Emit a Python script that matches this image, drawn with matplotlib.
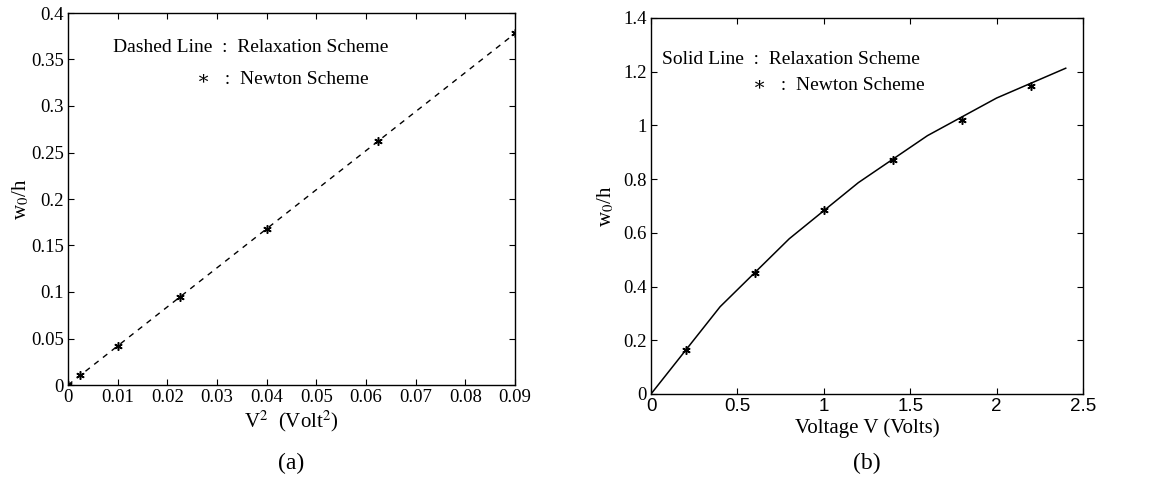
import numpy as np
import matplotlib
matplotlib.use("Agg")
import matplotlib.pyplot as plt

plt.rcParams['font.family'] = ['Liberation Serif', 'DejaVu Serif']
plt.rcParams['mathtext.fontset'] = 'stix'

# panel (a): w0/h against V^2
v2_newton = [0, 0.0025, 0.01, 0.0225, 0.04, 0.0625, 0.09]
w_newton_a = [0, 0.0105, 0.042, 0.0945, 0.168, 0.262, 0.378]
v2_relax = [0, 0.09]
w_relax_a = [0, 0.378]

# panel (b): w0/h against V
v_newton = [0.2, 0.6, 1.0, 1.4, 1.8, 2.2]
w_newton_b = [0.165, 0.45, 0.686, 0.871, 1.021, 1.148]
v_relax = [0, 0.4, 0.8, 1.2, 1.6, 2.0, 2.4]
w_relax_b = [0, 0.325, 0.578, 0.787, 0.962, 1.102, 1.213]

fig = plt.figure(figsize=(11.49, 4.80), dpi=100)
W, H = 1149, 480

def box(x0, y0, x1, y1):
    return [x0 / W, (H - y1) / H, (x1 - x0) / W, (y1 - y0) / H]

star = dict(marker=(6, 2, 0), markersize=6, markeredgewidth=1.1,
            color='black', linestyle='none')

def style(ax):
    ax.tick_params(direction='in', top=True, right=True, length=4,
                   width=0.8, labelsize=13.5, pad=3)
    for s in ax.spines.values():
        s.set_linewidth(1.0)

# (a)
ax1 = fig.add_axes(box(68, 13, 515, 385))
ax1.plot(v2_relax, w_relax_a, 'k--', linewidth=1.0, dashes=(4, 4))
ax1.plot(v2_newton, w_newton_a, **star)
ax1.set_xlim(0, 0.09)
ax1.set_ylim(0, 0.4)
ax1.set_xticks(np.arange(0, 0.091, 0.01))
ax1.set_xticklabels(['0', '0.01', '0.02', '0.03', '0.04', '0.05',
                     '0.06', '0.07', '0.08', '0.09'])
ax1.set_yticks(np.arange(0, 0.41, 0.05))
ax1.set_yticklabels(['0', '0.05', '0.1', '0.15', '0.2', '0.25',
                     '0.3', '0.35', '0.4'])
style(ax1)
ax1.set_xlabel(r'V$^2$  (Volt$^2$)', fontsize=15, labelpad=2)
ax1.set_ylabel(r'w$_0$/h', fontsize=15, labelpad=0)
ax1.text(0.10, 0.908, 'Dashed Line  :  Relaxation Scheme', transform=ax1.transAxes,
         fontsize=14, va='center', ha='left')
ax1.text(0.288, 0.822, '\u2217   :  Newton Scheme', transform=ax1.transAxes,
         fontsize=14, va='center', ha='left')
fig.text(291 / W, 1 - 463 / H, '(a)', fontsize=17, ha='center', va='center')

# (b)
ax2 = fig.add_axes(box(651, 18, 1083, 394))
ax2.plot(v_relax, w_relax_b, 'k-', linewidth=1.1)
ax2.plot(v_newton, w_newton_b, **star)
ax2.set_xlim(0, 2.5)
ax2.set_ylim(0, 1.4)
ax2.set_xticks([0, 0.5, 1, 1.5, 2, 2.5])
ax2.set_xticklabels(['0', '0.5', '1', '1.5', '2', '2.5'],
                    family=['Liberation Sans', 'DejaVu Sans'], fontsize=13)
ax2.set_yticks(np.arange(0, 1.41, 0.2))
ax2.set_yticklabels(['0', '0.2', '0.4', '0.6', '0.8', '1', '1.2', '1.4'])
style(ax2)
ax2.set_xlabel('Voltage V (Volts)', fontsize=15, labelpad=2)
ax2.set_ylabel(r'w$_0$/h', fontsize=15, labelpad=5)
ax2.text(0.025, 0.89, 'Solid Line  :  Relaxation Scheme', transform=ax2.transAxes,
         fontsize=14, va='center', ha='left')
ax2.text(0.235, 0.82, '\u2217   :  Newton Scheme', transform=ax2.transAxes,
         fontsize=14, va='center', ha='left')
fig.text(867 / W, 1 - 463 / H, '(b)', fontsize=17, ha='center', va='center')

fig.savefig('out.png', dpi=100)
